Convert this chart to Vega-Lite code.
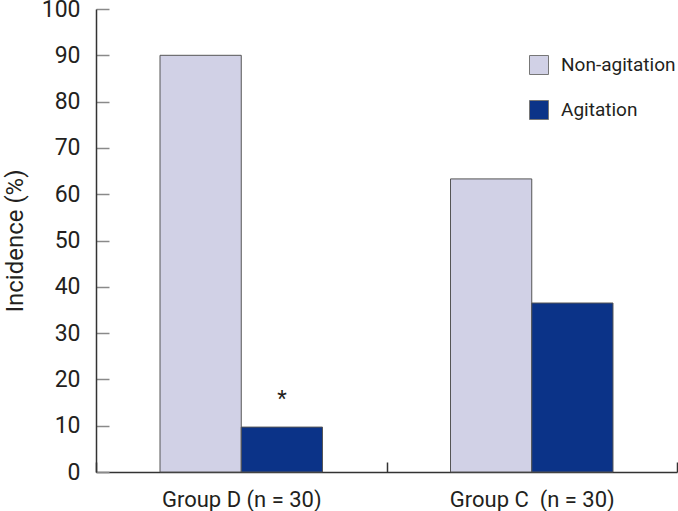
{
  "$schema": "https://vega.github.io/schema/vega-lite/v6.json",
  "width": 581,
  "height": 463,
  "autosize": {"type": "none"},
  "padding": {"left": 96, "top": 9, "right": 1, "bottom": 39},
  "background": "white",
  "config": {
    "view": {"stroke": null},
    "font": "Roboto",
    "axis": {"labelFont": "Roboto", "titleFont": "Roboto"},
    "legend": {"labelFont": "Roboto"}
  },
  "data": {
    "values": [
      {"group": "Group D (n = 30)", "status": "Non-agitation", "value": 90},
      {"group": "Group D (n = 30)", "status": "Agitation", "value": 9.7, "note": "*"},
      {"group": "Group C\u00a0 (n = 30)", "status": "Non-agitation", "value": 63.3},
      {"group": "Group C\u00a0 (n = 30)", "status": "Agitation", "value": 36.5}
    ]
  },
  "encoding": {
    "x": {
      "field": "group",
      "type": "nominal",
      "sort": null,
      "scale": {"paddingInner": 0, "paddingOuter": 0},
      "axis": {
        "title": null,
        "labelAngle": 0,
        "labelLimit": 0,
        "labelOverlap": false,
        "tickBand": "extent",
        "tickSize": -10,
        "tickColor": "#333333",
        "tickWidth": 1.5,
        "domainColor": "#333333",
        "domainWidth": 1.5,
        "labelFontSize": 22,
        "labelColor": "#231f20",
        "labelBaseline": "alphabetic",
        "labelPadding": 44
      }
    },
    "xOffset": {
      "field": "status",
      "type": "nominal",
      "sort": ["Non-agitation", "Agitation"],
      "scale": {"paddingInner": 0, "paddingOuter": 0.788}
    },
    "y": {
      "field": "value",
      "type": "quantitative",
      "scale": {"domain": [0, 100], "nice": false},
      "axis": {
        "title": "Incidence (%)",
        "values": [0, 10, 20, 30, 40, 50, 60, 70, 80, 90, 100],
        "grid": false,
        "labelOverlap": false,
        "tickSize": -13,
        "tickColor": "#8a8a8a",
        "tickWidth": 1.5,
        "domainColor": "#333333",
        "domainWidth": 1.5,
        "labelFontSize": 23,
        "labelColor": "#231f20",
        "labelPadding": 29,
        "titleFontSize": 24,
        "titleFontWeight": "normal",
        "titleColor": "#231f20",
        "titleX": -74,
        "titleBaseline": "alphabetic"
      }
    }
  },
  "layer": [
    {
      "mark": {"type": "bar", "stroke": "#555555", "strokeWidth": 1},
      "encoding": {
        "color": {
          "field": "status",
          "type": "nominal",
          "scale": {"domain": ["Non-agitation", "Agitation"], "range": ["#d1d1e6", "#0b3388"]},
          "legend": {
            "orient": "none",
            "legendX": 433,
            "legendY": 46,
            "title": null,
            "symbolType": "square",
            "symbolSize": 361,
            "symbolStrokeColor": "#777777",
            "symbolStrokeWidth": 1,
            "symbolOpacity": 1,
            "labelFontSize": 19,
            "labelLimit": 0,
            "labelOffset": 12,
            "rowPadding": 21,
            "padding": 0,
            "labelColor": "#231f20"
          }
        }
      }
    },
    {
      "transform": [{"filter": "isValid(datum.note)"}],
      "mark": {"type": "text", "font": "Roboto", "fontSize": 22, "baseline": "middle", "dy": -28, "color": "#231f20"},
      "encoding": {"text": {"field": "note"}}
    }
  ]
}
